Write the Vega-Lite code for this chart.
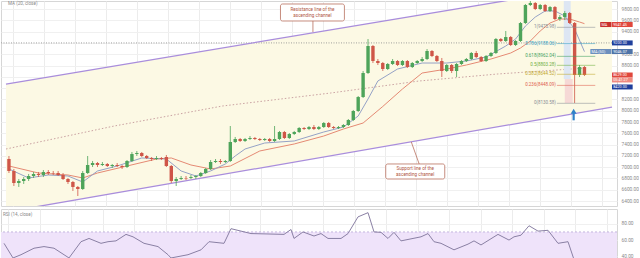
{
 "$schema":"https://vega.github.io/schema/vega-lite/v6.json",
 "padding":0,
 "spacing":1,
 "background":"white",
 "config":{"view":{"stroke":"#d6d6d6"},"font":"Roboto","axis":{"labelFont":"Roboto","labelOverlap":false}},
 "datasets":{
  "candles":[
{"i":0,"o":7145,"h":7198,"l":6897,"c":6933},{"i":1,"o":6933,"h":6968,"l":6667,"c":6720},{"i":2,"o":6720,"h":6791,"l":6650,"c":6756},{"i":3,"o":6756,"h":6826,"l":6703,"c":6791},{"i":4,"o":6791,"h":6880,"l":6756,"c":6844},{"i":5,"o":6844,"h":6915,"l":6809,"c":6880},{"i":6,"o":6880,"h":6915,"l":6826,"c":6862},{"i":7,"o":6862,"h":6950,"l":6826,"c":6915},{"i":8,"o":6915,"h":6950,"l":6862,"c":6897},{"i":9,"o":6897,"h":6933,"l":6862,"c":6890},
{"i":10,"o":6897,"h":6933,"l":6844,"c":6862},{"i":11,"o":6862,"h":6897,"l":6773,"c":6791},{"i":12,"o":6791,"h":6809,"l":6703,"c":6738},{"i":13,"o":6738,"h":6756,"l":6579,"c":6650},{"i":14,"o":6650,"h":6667,"l":6490,"c":6614},{"i":15,"o":6614,"h":6933,"l":6597,"c":6897},{"i":16,"o":6897,"h":7198,"l":6880,"c":7039},{"i":17,"o":7039,"h":7110,"l":7003,"c":7074},{"i":18,"o":7074,"h":7092,"l":7003,"c":7039},{"i":19,"o":7039,"h":7092,"l":7021,"c":7057},
{"i":20,"o":7057,"h":7074,"l":7003,"c":7021},{"i":21,"o":7021,"h":7057,"l":6986,"c":7039},{"i":22,"o":7039,"h":7074,"l":7003,"c":7021},{"i":23,"o":7021,"h":7039,"l":6968,"c":7003},{"i":24,"o":7003,"h":7127,"l":6986,"c":7110},{"i":25,"o":7110,"h":7269,"l":7092,"c":7233},{"i":26,"o":7233,"h":7287,"l":7198,"c":7251},{"i":27,"o":7251,"h":7269,"l":7180,"c":7198},{"i":28,"o":7198,"h":7216,"l":7145,"c":7163},{"i":29,"o":7163,"h":7180,"l":7110,"c":7145},
{"i":30,"o":7145,"h":7198,"l":7127,"c":7163},{"i":31,"o":7163,"h":7180,"l":7127,"c":7145},{"i":32,"o":7180,"h":7216,"l":7003,"c":7021},{"i":33,"o":7021,"h":7039,"l":6720,"c":6756},{"i":34,"o":6756,"h":6826,"l":6667,"c":6791},{"i":35,"o":6791,"h":6844,"l":6773,"c":6809},{"i":36,"o":6809,"h":6844,"l":6773,"c":6800},{"i":37,"o":6809,"h":6862,"l":6791,"c":6826},{"i":38,"o":6826,"h":6862,"l":6791,"c":6844},{"i":39,"o":6844,"h":6915,"l":6826,"c":6897},
{"i":40,"o":6897,"h":6986,"l":6880,"c":6968},{"i":41,"o":6968,"h":7127,"l":6950,"c":7092},{"i":42,"o":7092,"h":7145,"l":7074,"c":7110},{"i":43,"o":7110,"h":7145,"l":7057,"c":7092},{"i":44,"o":7092,"h":7127,"l":7074,"c":7110},{"i":45,"o":7110,"h":7729,"l":7092,"c":7446},{"i":46,"o":7446,"h":7535,"l":7428,"c":7499},{"i":47,"o":7499,"h":7517,"l":7446,"c":7464},{"i":48,"o":7464,"h":7517,"l":7446,"c":7499},{"i":49,"o":7499,"h":7552,"l":7481,"c":7517},
{"i":50,"o":7517,"h":7535,"l":7481,"c":7499},{"i":51,"o":7499,"h":7517,"l":7464,"c":7481},{"i":52,"o":7481,"h":7517,"l":7464,"c":7499},{"i":53,"o":7499,"h":7517,"l":7446,"c":7464},{"i":54,"o":7464,"h":7729,"l":7446,"c":7499},{"i":55,"o":7499,"h":7641,"l":7481,"c":7623},{"i":56,"o":7623,"h":7641,"l":7499,"c":7517},{"i":57,"o":7517,"h":7605,"l":7499,"c":7588},{"i":58,"o":7588,"h":7641,"l":7570,"c":7623},{"i":59,"o":7623,"h":7711,"l":7605,"c":7694},
{"i":60,"o":7694,"h":7711,"l":7658,"c":7676},{"i":61,"o":7676,"h":7729,"l":7658,"c":7711},{"i":62,"o":7711,"h":7747,"l":7658,"c":7676},{"i":63,"o":7676,"h":7729,"l":7658,"c":7711},{"i":64,"o":7711,"h":7800,"l":7694,"c":7782},{"i":65,"o":7782,"h":7800,"l":7694,"c":7711},{"i":66,"o":7711,"h":7729,"l":7676,"c":7694},{"i":67,"o":7694,"h":7729,"l":7676,"c":7711},{"i":68,"o":7711,"h":7764,"l":7694,"c":7747},{"i":69,"o":7747,"h":7853,"l":7729,"c":7835},
{"i":70,"o":7835,"h":8013,"l":7817,"c":7995},{"i":71,"o":7995,"h":8260,"l":7977,"c":8242},{"i":72,"o":8242,"h":8703,"l":8225,"c":8667},{"i":73,"o":8667,"h":9269,"l":8650,"c":9145},{"i":74,"o":9145,"h":9163,"l":8844,"c":8880},{"i":75,"o":8880,"h":8915,"l":8809,"c":8844},{"i":76,"o":8844,"h":8862,"l":8703,"c":8738},{"i":77,"o":8738,"h":8844,"l":8720,"c":8827},{"i":78,"o":8827,"h":8915,"l":8809,"c":8880},{"i":79,"o":8880,"h":8897,"l":8791,"c":8809},
{"i":80,"o":8809,"h":8897,"l":8791,"c":8880},{"i":81,"o":8880,"h":8897,"l":8756,"c":8773},{"i":82,"o":8773,"h":8862,"l":8756,"c":8844},{"i":83,"o":8844,"h":8897,"l":8827,"c":8880},{"i":84,"o":8880,"h":8950,"l":8862,"c":8915},{"i":85,"o":8915,"h":9092,"l":8897,"c":9057},{"i":86,"o":9057,"h":9074,"l":8950,"c":8968},{"i":87,"o":8968,"h":8986,"l":8862,"c":8880},{"i":88,"o":8880,"h":8933,"l":8596,"c":8703},{"i":89,"o":8703,"h":8827,"l":8685,"c":8809},
{"i":90,"o":8809,"h":8827,"l":8667,"c":8703},{"i":91,"o":8703,"h":8844,"l":8596,"c":8827},{"i":92,"o":8827,"h":8897,"l":8809,"c":8880},{"i":93,"o":8880,"h":8933,"l":8862,"c":8915},{"i":94,"o":8915,"h":9039,"l":8897,"c":9021},{"i":95,"o":9021,"h":9057,"l":8933,"c":8950},{"i":96,"o":8950,"h":8968,"l":8862,"c":8880},{"i":97,"o":8880,"h":8986,"l":8862,"c":8968},{"i":98,"o":8968,"h":9039,"l":8950,"c":9021},{"i":99,"o":9021,"h":9287,"l":9004,"c":9269},
{"i":100,"o":9269,"h":9287,"l":9216,"c":9234},{"i":101,"o":9234,"h":9411,"l":9216,"c":9304},{"i":102,"o":9304,"h":9322,"l":9145,"c":9163},{"i":103,"o":9163,"h":9251,"l":9145,"c":9234},{"i":104,"o":9234,"h":9570,"l":9216,"c":9552},{"i":105,"o":9552,"h":9889,"l":9535,"c":9871},{"i":106,"o":9871,"h":9942,"l":9853,"c":9906},{"i":107,"o":9906,"h":9924,"l":9782,"c":9800},{"i":108,"o":9800,"h":9889,"l":9782,"c":9871},{"i":109,"o":9871,"h":9889,"l":9747,"c":9765},
{"i":110,"o":9765,"h":9853,"l":9747,"c":9835},{"i":111,"o":9835,"h":9853,"l":9605,"c":9623},{"i":112,"o":9623,"h":9694,"l":9588,"c":9658},{"i":113,"o":9658,"h":9765,"l":9605,"c":9729},{"i":114,"o":9729,"h":9747,"l":9535,"c":9552},{"i":115,"o":9552,"h":9570,"l":8136,"c":8632},{"i":116,"o":8632,"h":8809,"l":8596,"c":8773},{"i":117,"o":8773,"h":8791,"l":8614,"c":8632}
  ],
  "channel":[{"i":-0.6,"lo":6207,"hi":8472},{"i":122.6,"lo":8065,"hi":10260}],
  "chanlines":[{"i":-0.6,"p":6207,"line":"support"},{"i":122.6,"p":8065,"line":"support"},{"i":-0.6,"p":8472,"line":"resistance"},{"i":122.6,"p":10260,"line":"resistance"}],
  "malong":[{"i":-0.6,"p":7322},{"i":21.4,"p":7729},{"i":43.4,"p":8083},{"i":65.4,"p":8313},{"i":83.4,"p":8526},{"i":99.4,"p":8650},{"i":117.4,"p":8756}],
  "mablue":[{"i":0,"p":6968},{"i":4,"p":6809},{"i":8,"p":6862},{"i":12,"p":6844},{"i":15,"p":6738},{"i":18,"p":6933},{"i":22,"p":7021},{"i":27,"p":7163},{"i":32,"p":7145},{"i":35,"p":6933},{"i":38,"p":6844},{"i":41,"p":6933},{"i":44,"p":7057},{"i":46,"p":7198},{"i":48,"p":7322},{"i":52,"p":7428},{"i":58,"p":7464},{"i":64,"p":7623},{"i":68,"p":7711},{"i":71,"p":7906},{"i":73,"p":8207},{"i":75,"p":8526},{"i":79,"p":8738},{"i":84,"p":8844},{"i":89,"p":8844},{"i":93,"p":8880},{"i":97,"p":8950},{"i":101,"p":9145},{"i":103,"p":9269},{"i":105,"p":9499},{"i":107,"p":9658},{"i":109,"p":9765},{"i":111,"p":9765},{"i":113,"p":9676},{"i":115,"p":9446},{"i":117,"p":9046}],
  "mared":[{"i":0,"p":7021},{"i":6,"p":6897},{"i":12,"p":6862},{"i":15,"p":6809},{"i":18,"p":6897},{"i":24,"p":7021},{"i":30,"p":7145},{"i":33,"p":7163},{"i":37,"p":7039},{"i":41,"p":6968},{"i":45,"p":7021},{"i":51,"p":7287},{"i":58,"p":7411},{"i":64,"p":7552},{"i":68,"p":7676},{"i":72,"p":7782},{"i":76,"p":8075},{"i":80,"p":8384},{"i":84,"p":8667},{"i":89,"p":8738},{"i":93,"p":8809},{"i":98,"p":8915},{"i":102,"p":9021},{"i":104,"p":9110},{"i":106,"p":9234},{"i":108,"p":9411},{"i":110,"p":9552},{"i":112,"p":9623},{"i":114,"p":9623},{"i":116,"p":9570},{"i":117,"p":9541}],
  "fib":[{"lvl":"1","p":9475.98,"label":"1(9475.98)"},{"lvl":"0.786","p":9188.06,"label":"0.786(9188.06)"},{"lvl":"0.618","p":8962.04,"label":"0.618(8962.04)"},{"lvl":"0.5","p":8803.28,"label":"0.5(8803.28)"},{"lvl":"0.382","p":8644.52,"label":"0.382(8644.52)"},{"lvl":"0.236","p":8448.09,"label":"0.236(8448.09)"},{"lvl":"0","p":8130.58,"label":"0(8130.58)"}],
  "highlight":[{"i1":112.8,"i2":114.2,"p1":9942,"p2":8560,"kind":"blue"},{"i1":113.0,"i2":114.6,"p1":8560,"p2":8136,"kind":"pink"}],
  "callouts":[{"i1":55.2,"i2":68.2,"p1":9889,"p2":9588},{"i1":76.6,"i2":88.6,"p1":7057,"p2":6791}],
  "pointers":[{"i":61.8,"i2":61.8,"p":9588,"p2":9393},{"i":83.4,"i2":81.8,"p":7057,"p2":7446}],
  "callouttext":[{"i":61.7,"p":9782,"t":"Resistance line of the"},{"i":61.7,"p":9676,"t":"ascending channel"},{"i":82.6,"p":6968,"t":"Support line of the"},{"i":82.6,"p":6862,"t":"ascending channel"}],
  "tags":[{"i1":120.2,"i2":122.5,"p1":9570,"p2":9481,"t":"MA","kind":"reddark"},{"i1":122.6,"i2":126.8,"p1":9570,"p2":9481,"t":"9541.45","kind":"red"},{"i1":122.6,"i2":126.8,"p1":9244,"p2":9156,"t":"9200.00","kind":"navy"},{"i1":118.2,"i2":122.5,"p1":9092,"p2":9004,"t":"MA (50)","kind":"steellight"},{"i1":122.6,"i2":126.8,"p1":9092,"p2":9004,"t":"9046.07","kind":"steel"},{"i1":122.6,"i2":126.8,"p1":8676,"p2":8588,"t":"8629.00","kind":"red"},{"i1":122.6,"i2":126.8,"p1":8588,"p2":8500,"t":"05:41:27","kind":"redlight"},{"i1":122.6,"i2":126.8,"p1":8464,"p2":8376,"t":"8420.00","kind":"navy"}],
  "arrow":[{"i":114.8,"p":7990,"p2":7830}],
  "rsi":[{"i":0,"r":56},{"i":1.8,"r":38},{"i":3.4,"r":42},{"i":6,"r":50},{"i":8,"r":52},{"i":10,"r":50},{"i":12,"r":42},{"i":13,"r":38},{"i":15.4,"r":58},{"i":17,"r":62},{"i":19.4,"r":56},{"i":20.8,"r":58},{"i":22.4,"r":59},{"i":24.4,"r":67},{"i":25.8,"r":64},{"i":28,"r":56},{"i":30.8,"r":52},{"i":32,"r":46},{"i":32.8,"r":42},{"i":33.4,"r":38},{"i":36.8,"r":42},{"i":39.4,"r":48},{"i":41,"r":58},{"i":44,"r":56},{"i":45.4,"r":74},{"i":47.4,"r":71},{"i":49.4,"r":68},{"i":52.8,"r":67.5},{"i":56,"r":67},{"i":57.4,"r":73},{"i":58,"r":62},{"i":59.8,"r":70},{"i":62,"r":65},{"i":63.4,"r":68},{"i":64.8,"r":62},{"i":67.4,"r":62},{"i":68.8,"r":68},{"i":70.8,"r":88.5},{"i":72.8,"r":93.7},{"i":74,"r":70},{"i":75.4,"r":69.5},{"i":76.8,"r":62},{"i":78,"r":69.5},{"i":79.4,"r":59},{"i":83.4,"r":64},{"i":84.8,"r":68},{"i":86,"r":58},{"i":87.4,"r":56},{"i":90,"r":48},{"i":92.8,"r":55},{"i":94,"r":59},{"i":95.4,"r":54},{"i":98.8,"r":67},{"i":101,"r":60},{"i":102,"r":64},{"i":103.4,"r":66},{"i":105,"r":77.6},{"i":106.8,"r":71},{"i":108.8,"r":72},{"i":110.8,"r":56},{"i":112.8,"r":58},{"i":114,"r":36},{"i":115,"r":20}]
 },
 "vconcat":[
  {
   "width":616,"height":205,
   "resolve":{"scale":{"color":"independent"}},
   "layer":[
    {"data":{"name":"channel"},"mark":{"type":"area","color":"#fcf9e4","clip":true},
     "encoding":{
      "x":{"field":"i","type":"quantitative","title":null,"scale":{"domain":[-0.6,122.6],"nice":false,"zero":false},
           "axis":{"title":null,"labels":false,"ticks":false,"domain":false,"grid":true,"gridColor":"#ececec","tickCount":40,"values":[0.8,7.1,13.4,19.7,26,32.3,38.6,44.9,51.2,57.5,63.8,70.1,76.4,82.7,89,95.3,101.6,107.9,114.2,120.5]}},
      "y":{"field":"lo","type":"quantitative","title":null,"scale":{"domain":[6313,9942],"nice":false,"zero":false},
           "axis":{"title":null,"orient":"right","tickCount":40,"values":[6400,6600,6800,7000,7200,7400,7600,7800,8000,8200,8400,8600,8800,9000,9200,9400,9600,9800],"format":".2f","labelExpr":"(datum.value == 9200 || datum.value == 8600 || datum.value == 8400) ? '' : datum.label","labelFontSize":4.8,"labelOverlap":false,"labelColor":"#8a8a8a","ticks":false,"labelPadding":4,"domain":false,"grid":true,"gridColor":"#f0f0f0"}},
      "y2":{"field":"hi"}}},
    {"data":{"values":[{"p":9200}]},"mark":{"type":"rule","color":"#8a8a8a","strokeDash":[1,1.5],"strokeWidth":0.8},
     "encoding":{"y":{"field":"p","type":"quantitative","title":null}}},
    {"data":{"name":"malong"},"mark":{"type":"line","color":"#caa2a2","strokeDash":[1.5,2],"strokeWidth":1,"clip":true},
     "encoding":{"x":{"field":"i","type":"quantitative","title":null},"y":{"field":"p","type":"quantitative","title":null}}},
    {"data":{"name":"chanlines"},"mark":{"type":"line","color":"#a98ddc","strokeWidth":1.3,"clip":true},
     "encoding":{"x":{"field":"i","type":"quantitative","title":null},"y":{"field":"p","type":"quantitative","title":null},"detail":{"field":"line"}}},
    {"data":{"name":"highlight"},"mark":{"type":"rect"},
     "encoding":{"x":{"field":"i1","type":"quantitative","title":null},"x2":{"field":"i2"},"y":{"field":"p1","type":"quantitative","title":null},"y2":{"field":"p2"},
      "color":{"field":"kind","type":"nominal","legend":null,"scale":{"domain":["blue","pink"],"range":["#dde6f3","#f6d9d6"]}}}},
    {"data":{"name":"mared"},"mark":{"type":"line","color":"#e58a74","strokeWidth":1},
     "encoding":{"x":{"field":"i","type":"quantitative","title":null},"y":{"field":"p","type":"quantitative","title":null}}},
    {"data":{"name":"mablue"},"mark":{"type":"line","color":"#95a2c6","strokeWidth":1},
     "encoding":{"x":{"field":"i","type":"quantitative","title":null},"y":{"field":"p","type":"quantitative","title":null}}},
    {"data":{"name":"candles"},"mark":{"type":"rule","strokeWidth":0.8},
     "encoding":{"x":{"field":"i","type":"quantitative","title":null},"y":{"field":"l","type":"quantitative","title":null},"y2":{"field":"h"},
      "color":{"condition":{"test":"datum.c >= datum.o","value":"#4ea45a"},"value":"#cf5648"}}},
    {"data":{"name":"candles"},"mark":{"type":"bar","size":3.4},
     "encoding":{"x":{"field":"i","type":"quantitative","title":null},"y":{"field":"o","type":"quantitative","title":null},"y2":{"field":"c"},
      "color":{"condition":{"test":"datum.c >= datum.o","value":"#4ea45a"},"value":"#cf5648"}}},
    {"data":{"name":"fib"},"mark":{"type":"rule","strokeWidth":0.8,"opacity":0.7},
     "encoding":{"x":{"datum":111.4,"type":"quantitative","title":null},"x2":{"datum":119.2},"y":{"field":"p","type":"quantitative","title":null},
      "color":{"field":"lvl","type":"nominal","legend":null,"scale":{"domain":["1","0.786","0.618","0.5","0.382","0.236","0"],"range":["#8a8d96","#3a9fc6","#3f9f5f","#6fae3f","#c2a72c","#e0604f","#8a8d96"]}}}},
    {"data":{"name":"fib"},"mark":{"type":"text","align":"right","baseline":"middle","fontSize":4.5,"dx":-1},
     "encoding":{"x":{"datum":111.4,"type":"quantitative","title":null},"y":{"field":"p","type":"quantitative","title":null},"text":{"field":"label"},
      "color":{"field":"lvl","type":"nominal","legend":null,"scale":{"domain":["1","0.786","0.618","0.5","0.382","0.236","0"],"range":["#8a8d96","#3a9fc6","#3f9f5f","#6fae3f","#c2a72c","#e0604f","#8a8d96"]}}}},
    {"data":{"name":"callouts"},"mark":{"type":"rect","fill":"white","stroke":"#b8705e","strokeWidth":0.8,"cornerRadius":2},
     "encoding":{"x":{"field":"i1","type":"quantitative","title":null},"x2":{"field":"i2"},"y":{"field":"p1","type":"quantitative","title":null},"y2":{"field":"p2"}}},
    {"data":{"name":"pointers"},"mark":{"type":"rule","color":"#b8705e","strokeWidth":0.8},
     "encoding":{"x":{"field":"i","type":"quantitative","title":null},"x2":{"field":"i2"},"y":{"field":"p","type":"quantitative","title":null},"y2":{"field":"p2"}}},
    {"data":{"name":"callouttext"},"mark":{"type":"text","fontSize":4.6,"color":"#b0563f","baseline":"middle"},
     "encoding":{"x":{"field":"i","type":"quantitative","title":null},"y":{"field":"p","type":"quantitative","title":null},"text":{"field":"t"}}},
    {"data":{"name":"tags"},"mark":{"type":"rect"},
     "encoding":{"x":{"field":"i1","type":"quantitative","title":null},"x2":{"field":"i2"},"y":{"field":"p1","type":"quantitative","title":null},"y2":{"field":"p2"},
      "color":{"field":"kind","type":"nominal","legend":null,"scale":{"domain":["reddark","red","redlight","navy","steel","steellight"],"range":["#c9302c","#e0473c","#ee8a80","#1f3f9c","#4f74a8","#6d8fbd"]}}}},
    {"data":{"name":"tags"},"mark":{"type":"text","fontSize":3.8,"color":"white","baseline":"top","align":"left","dx":1.2,"dy":0.9},
     "encoding":{"x":{"field":"i1","type":"quantitative","title":null},"y":{"field":"p1","type":"quantitative","title":null},"text":{"field":"t"}}},
    {"data":{"name":"arrow"},"mark":{"type":"rule","color":"#2f80c8","strokeWidth":2.2},
     "encoding":{"x":{"field":"i","type":"quantitative","title":null},"y":{"field":"p","type":"quantitative","title":null},"y2":{"field":"p2"}}},
    {"data":{"name":"arrow"},"mark":{"type":"point","shape":"triangle-up","filled":true,"color":"#2f80c8","size":35,"opacity":1},
     "encoding":{"x":{"field":"i","type":"quantitative","title":null},"y":{"field":"p","type":"quantitative","title":null}}},
    {"data":{"values":[{"i":-0.2,"p":9890,"t":"MA (20, close)"}]},"mark":{"type":"text","align":"left","baseline":"middle","fontSize":4.6,"color":"#8a8a8a"},
     "encoding":{"x":{"field":"i","type":"quantitative","title":null},"y":{"field":"p","type":"quantitative","title":null},"text":{"field":"t"}}}
   ]
  },
  {
   "width":616,"height":51,
   "layer":[
    {"data":{"values":[{"top":70,"bot":35.5}]},"mark":{"type":"rect","color":"#efe3fa"},
     "encoding":{"y":{"field":"top","type":"quantitative","title":null,"scale":{"domain":[35.5,98.2],"nice":false,"zero":false},
       "axis":{"title":null,"orient":"right","tickCount":10,"values":[40,60,80],"format":".2f","labelFontSize":4.8,"labelOverlap":false,"labelColor":"#8a8a8a","ticks":false,"labelPadding":4,"domain":false,"grid":true,"gridColor":"#f0f0f0"}},
      "y2":{"field":"bot"}}},
    {"data":{"values":[{"r":70}]},"mark":{"type":"rule","color":"#b9a6d6","strokeDash":[2,2],"strokeWidth":0.8},
     "encoding":{"y":{"field":"r","type":"quantitative","title":null}}},
    {"data":{"name":"rsi"},"mark":{"type":"line","color":"#8a80a4","strokeWidth":1,"clip":true},
     "encoding":{"x":{"field":"i","type":"quantitative","title":null,"scale":{"domain":[-0.6,122.6],"nice":false,"zero":false},
        "axis":{"title":null,"labels":false,"ticks":false,"domain":false,"grid":true,"gridColor":"#ececec","tickCount":40,"values":[0.8,7.1,13.4,19.7,26,32.3,38.6,44.9,51.2,57.5,63.8,70.1,76.4,82.7,89,95.3,101.6,107.9,114.2,120.5]}},
      "y":{"field":"r","type":"quantitative","title":null}}},
    {"data":{"values":[{"i":-0.2,"r":91,"t":"RSI (14, close)"}]},"mark":{"type":"text","align":"left","baseline":"middle","fontSize":4.6,"color":"#8a8a8a"},
     "encoding":{"x":{"field":"i","type":"quantitative","title":null},"y":{"field":"r","type":"quantitative","title":null},"text":{"field":"t"}}}
   ]
  }
 ]
}
